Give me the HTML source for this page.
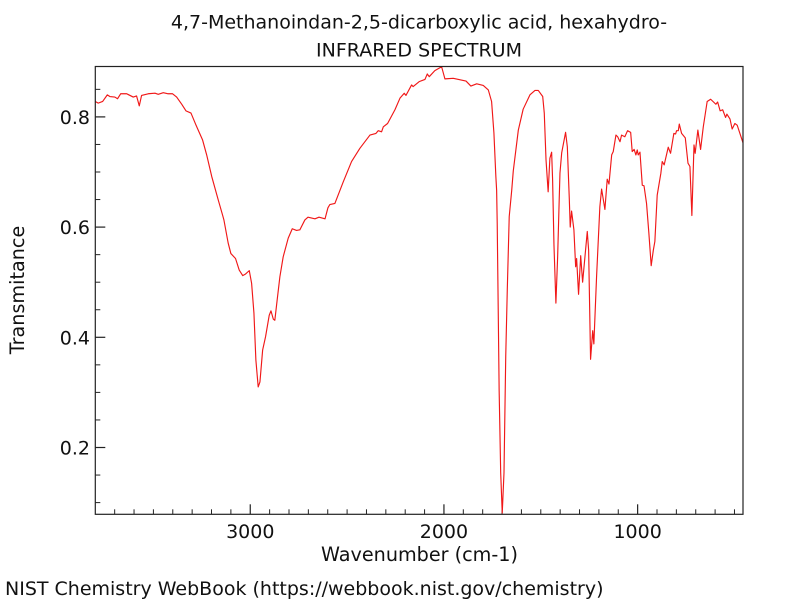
<!DOCTYPE html>
<html lang="en">
<head>
<meta charset="utf-8">
<title>4,7-Methanoindan-2,5-dicarboxylic acid, hexahydro- IR spectrum</title>
<style>
html,body{margin:0;padding:0;background:#fff;}
svg{display:block;font-family:"DejaVu Sans","Liberation Sans",sans-serif;fill:#111;}
</style>
</head>
<body>
<svg id="chart" xmlns="http://www.w3.org/2000/svg" width="800" height="600" viewBox="0 0 800 600">
  <rect x="0" y="0" width="800" height="600" fill="#fff"/>
  <text x="419" y="28.5" font-size="19" text-anchor="middle">4,7-Methanoindan-2,5-dicarboxylic acid, hexahydro-</text>
  <text x="419" y="56.7" font-size="19" text-anchor="middle">INFRARED SPECTRUM</text>
  <defs><clipPath id="plot-clip"><rect x="95.3" y="66.5" width="647.7" height="447.8"/></clipPath></defs>
  <g id="ticks"></g>
  <path id="spectrum" clip-path="url(#plot-clip)" fill="none" stroke="#f01818" stroke-width="1.15" stroke-linejoin="round"/>
  <rect x="95.3" y="66.5" width="647.7" height="447.8" fill="none" stroke="#222" stroke-width="1.2"/>
  <g id="tick-labels"></g>
  <text x="419.5" y="561" font-size="19.2" text-anchor="middle">Wavenumber (cm-1)</text>
  <text transform="translate(24 290) rotate(-90)" font-size="19.2" text-anchor="middle">Transmitance</text>
  <text x="5" y="595" font-size="19">NIST Chemistry WebBook (https://webbook.nist.gov/chemistry)</text>
</svg>
<script>
const wavenumbers = [3800,3785,3762,3738,3725,3699,3685,3669,3638,3604,3587,3573,3561,3527,3492,3475,3449,3424,3401,3380,3354,3332,3306,3280,3246,3225,3199,3165,3143,3136,3114,3100,3076,3057,3039,3024,3005,2993,2981,2971,2959,2950,2936,2921,2902,2893,2881,2873,2861,2847,2830,2804,2783,2761,2744,2718,2702,2666,2645,2614,2599,2589,2563,2520,2477,2434,2382,2351,2339,2322,2313,2291,2253,2227,2205,2196,2167,2159,2128,2098,2086,2076,2047,2012,1995,1952,1886,1861,1831,1797,1771,1754,1742,1732,1728,1725,1720,1715,1707,1699,1690,1681,1673,1663,1650,1642,1616,1591,1556,1530,1513,1490,1482,1473,1462,1453,1444,1439,1432,1422,1413,1405,1401,1392,1372,1363,1353,1348,1341,1329,1320,1315,1305,1294,1284,1260,1253,1243,1232,1226,1212,1195,1186,1169,1157,1148,1134,1126,1112,1103,1091,1083,1066,1052,1036,1028,1018,1009,1002,997,988,976,967,954,942,930,919,911,899,880,873,863,842,830,813,804,799,790,785,773,754,740,730,720,709,703,689,675,661,641,623,596,587,574,561,546,539,523,512,498,486,456];
const transmittance = [.828,.825,.828,.840,.837,.836,.833,.842,.842,.836,.838,.820,.839,.842,.843,.841,.844,.842,.842,.836,.823,.811,.807,.785,.758,.731,.692,.649,.622,.613,.571,.552,.543,.522,.512,.515,.521,.498,.444,.359,.310,.319,.377,.401,.440,.448,.433,.431,.468,.510,.546,.580,.597,.594,.595,.613,.618,.615,.618,.615,.635,.641,.643,.682,.719,.743,.767,.770,.775,.773,.782,.788,.813,.834,.843,.839,.858,.855,.864,.868,.878,.873,.884,.891,.869,.870,.865,.856,.860,.857,.849,.828,.771,.692,.667,.607,.456,.304,.154,.081,.154,.365,.486,.619,.667,.702,.776,.814,.840,.848,.848,.837,.807,.722,.664,.725,.736,.686,.568,.462,.546,.649,.698,.735,.772,.746,.653,.600,.629,.595,.528,.543,.478,.548,.500,.592,.558,.360,.412,.388,.510,.637,.669,.632,.687,.678,.731,.737,.767,.764,.755,.767,.764,.775,.772,.737,.741,.731,.740,.731,.736,.676,.675,.643,.589,.530,.558,.574,.658,.698,.719,.713,.745,.734,.770,.769,.775,.775,.787,.770,.762,.716,.710,.621,.749,.734,.776,.741,.782,.828,.832,.823,.827,.811,.813,.799,.805,.796,.778,.788,.785,.753];
const xMajorTicks = [3000,2000,1000];
const xMinorTicks = [3700,3600,3500,3400,3300,3200,3100,2900,2800,2700,2600,2500,2400,2300,2200,2100,1900,1800,1700,1600,1500,1400,1300,1200,1100,900,800,700,600,500];
const yMajorTicks = [0.2,0.4,0.6,0.8];
const yMinorTicks = [0.1,0.15,0.25,0.3,0.35,0.45,0.5,0.55,0.65,0.7,0.75,0.85];

const NS = 'http://www.w3.org/2000/svg';
const xAt = w => 95.3 + (3800 - w) * (743 - 95.3) / (3800 - 456);
const yAt = t => 447.5 - (t - 0.2) * 551;
const PLOT_BOTTOM = 514.3, PLOT_LEFT = 95.3;

document.getElementById('spectrum').setAttribute('d',
  wavenumbers.map((w, i) => (i ? 'L' : 'M') + xAt(w).toFixed(2) + ' ' + yAt(transmittance[i]).toFixed(2)).join(' '));

const tickGroup = document.getElementById('ticks');
const labelGroup = document.getElementById('tick-labels');
function addTick(x1, y1, x2, y2, width) {
  const l = document.createElementNS(NS, 'line');
  l.setAttribute('x1', x1);
  l.setAttribute('y1', y1);
  l.setAttribute('x2', x2);
  l.setAttribute('y2', y2);
  l.setAttribute('stroke', '#222');
  l.setAttribute('stroke-width', width);
  
  
  tickGroup.appendChild(l);
}
function addLabel(x, y, anchor, str) {
  const t = document.createElementNS(NS, 'text');
  t.setAttribute('x', x);
  t.setAttribute('y', y);
  t.setAttribute('text-anchor', anchor);
  t.setAttribute('font-size', '19');
  t.textContent = str;
  
  
  labelGroup.appendChild(t);
}
xMajorTicks.forEach(w => {
  addTick(xAt(w), PLOT_BOTTOM, xAt(w), PLOT_BOTTOM - 10, 1.2);
  addLabel(xAt(w), 538, 'middle', String(w));
});
xMinorTicks.forEach(w => addTick(xAt(w), PLOT_BOTTOM, xAt(w), PLOT_BOTTOM - 5, 1));
yMajorTicks.forEach(t => {
  addTick(PLOT_LEFT, yAt(t), PLOT_LEFT + 10, yAt(t), 1.2);
  addLabel(90, yAt(t) + 7, 'end', t.toFixed(1));
});
yMinorTicks.forEach(t => addTick(PLOT_LEFT, yAt(t), PLOT_LEFT + 5, yAt(t), 1));
</script>
</body>
</html>
